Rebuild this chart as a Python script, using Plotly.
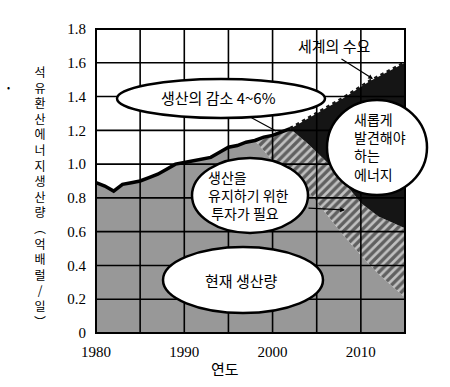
import plotly.graph_objects as go

# ---------------- data ----------------
hist_years = list(range(1980, 2003))
hist_vals = [0.89, 0.87, 0.84, 0.88, 0.89, 0.90, 0.92, 0.94, 0.97, 1.00, 1.01,
             1.02, 1.03, 1.04, 1.07, 1.10, 1.11, 1.13, 1.14, 1.16, 1.17, 1.19, 1.21]

# current production (declining after 1998)
decline_years = [1998, 2000, 2002, 2004, 2006, 2008, 2010, 2012, 2015]
decline_vals = [1.14, 1.02, 0.93, 0.84, 0.71, 0.58, 0.46, 0.35, 0.21]

# production kept by investment (top of hatched area)
kept_years = [2002, 2004, 2006, 2008, 2010, 2012, 2015]
kept_vals = [1.21, 1.12, 1.02, 0.90, 0.77, 0.69, 0.62]

# world demand
demand_years = [2002, 2005, 2008, 2011, 2015]
demand_vals = [1.21, 1.30, 1.39, 1.49, 1.60]

x_ticks = [1980, 1990, 2000, 2010]
y_ticks = [0, 0.2, 0.4, 0.6, 0.8, 1.0, 1.2, 1.4, 1.6, 1.8]
y_tick_text = ["0", "0.2", "0.4", "0.6", "0.8", "1.0", "1.2", "1.4", "1.6", "1.8"]
x_grid = [1985, 1990, 1995, 2000, 2005, 2010]
y_grid = [0.2, 0.4, 0.6, 0.8, 1.0, 1.2, 1.4, 1.6]

y_title_chars = ["석", "유", "환", "산", "에", "너", "지", "생", "산", "량",
                 "︵", "억", "배", "럴", "/", "일", "︶"]

GRAY = "#989898"
BLACK = "#151515"
KR = "Noto Sans CJK KR, Noto Sans, sans-serif"
SERIF = "Liberation Serif, Times New Roman, serif"

# layout geometry (pixels)
W, H = 450, 387
L, R, T, B = 96, 45, 29, 54
PW, PH = W - L - R, H - T - B


def P(X, Y):
    return (X - L) / PW, (T + PH - Y) / PH


fig = go.Figure()

# gray: current production
idx98 = hist_years.index(1998)
gx = hist_years[:idx98 + 1] + decline_years[1:]
gy = hist_vals[:idx98 + 1] + decline_vals[1:]
fig.add_trace(go.Scatter(x=gx, y=gy, mode="lines", fill="tozeroy",
                         fillcolor=GRAY, line=dict(width=0, color=GRAY),
                         hoverinfo="skip"))

# hatched: investment to maintain production
top_x = hist_years[idx98:] + kept_years[1:]
top_y = hist_vals[idx98:] + kept_vals[1:]
hx = top_x + decline_years[::-1]
hy = top_y + decline_vals[::-1]
fig.add_trace(go.Scatter(x=hx, y=hy, mode="lines", fill="toself",
                         fillcolor="#c0c0c0",
                         fillpattern=dict(shape="/", fgcolor="#000000",
                                          bgcolor="#c0c0c0", size=6,
                                          solidity=0.55),
                         line=dict(width=0), hoverinfo="skip"))

# black: new energy needed
bx = demand_years + kept_years[::-1]
by = demand_vals + kept_vals[::-1]
fig.add_trace(go.Scatter(x=bx, y=by, mode="lines", fill="toself",
                         fillcolor=BLACK, line=dict(width=0),
                         hoverinfo="skip"))

# demand serrated edge
fig.add_trace(go.Scatter(x=demand_years, y=demand_vals, mode="lines",
                         line=dict(color=BLACK, width=3.5, dash="dot"),
                         hoverinfo="skip"))

# history line
fig.add_trace(go.Scatter(x=hist_years, y=hist_vals, mode="lines",
                         line=dict(color="black", width=3.5),
                         hoverinfo="skip"))

shapes = []
for gxv in x_grid:
    shapes.append(dict(type="line", xref="x", yref="paper", x0=gxv, x1=gxv,
                       y0=0, y1=1, line=dict(color="black", width=1.6),
                       layer="above"))
for gyv in y_grid:
    shapes.append(dict(type="line", xref="paper", yref="y", x0=0, x1=1,
                       y0=gyv, y1=gyv, line=dict(color="black", width=1.6),
                       layer="above"))
shapes.append(dict(type="rect", xref="paper", yref="paper", x0=0, x1=1,
                   y0=0, y1=1, line=dict(color="black", width=2),
                   layer="above"))


def ellipse(X0, Y0, X1, Y1):
    a0, b0 = P(X0, Y1)
    a1, b1 = P(X1, Y0)
    return dict(type="circle", xref="paper", yref="paper", x0=a0, x1=a1,
                y0=b0, y1=b1, fillcolor="white",
                line=dict(color="black", width=2.5), layer="above")


shapes.append(ellipse(117, 79, 325, 118))
shapes.append(ellipse(192, 158, 308, 233))
shapes.append(ellipse(327, 100, 427, 195))
shapes.append(ellipse(163, 247, 323, 313))

annotations = []


def text(X, Y, s, size=15, xanchor="center", align="center", font=KR):
    x, y = P(X, Y)
    annotations.append(dict(x=x, y=y, xref="paper", yref="paper", text=s,
                            showarrow=False, xanchor=xanchor, yanchor="middle",
                            align=align, font=dict(family=font, size=size,
                                                   color="black")))


text(218, 97, "생산의 감소 4~6%")
text(206, 195, "생산을<br>유지하기 위한<br>&nbsp;투자가 필요", size=14,
     xanchor="left", align="left")
text(352, 146, "새롭게<br>발견해야<br>하는<br>에너지", size=14,
     xanchor="left", align="left")
text(241, 280, "현재 생산량")
text(334, 45, "세계의 수요")
text(225, 368, "연도")
text(8, 88, "•", size=9)

# vertical y-axis title: upright characters stacked in one text block
text(40, 196, "<br>".join(y_title_chars), size=12)


def arrow(tipX, tipY, tailX, tailY, head=True):
    x, y = P(tipX, tipY)
    annotations.append(dict(x=x, y=y, xref="paper", yref="paper", text="",
                            showarrow=True, ax=tailX - tipX, ay=tailY - tipY,
                            arrowhead=2 if head else 0, arrowsize=0.8,
                            arrowwidth=1.2, arrowcolor="black"))


arrow(276, 131, 250, 117, head=False)
arrow(373, 79, 340, 58)
arrow(345, 210, 307, 208)

fig.update_layout(
    width=W, height=H,
    margin=dict(l=L, r=R, t=T, b=B),
    paper_bgcolor="white", plot_bgcolor="white",
    showlegend=False,
    shapes=shapes,
    annotations=annotations,
    xaxis=dict(range=[1980, 2015], tickvals=x_ticks, showgrid=False,
               zeroline=False, showline=False, ticks="",
               ticklabelstandoff=8,
               tickfont=dict(family=SERIF, size=15, color="black")),
    yaxis=dict(range=[0, 1.8], tickvals=y_ticks, ticktext=y_tick_text,
               showgrid=False, zeroline=False, showline=False, ticks="",
               ticklabelstandoff=9,
               tickfont=dict(family=SERIF, size=15, color="black")),
)

fig.write_html("out.html",
               config={"displayModeBar": False},
               post_script="document.body.style.margin='0';"
                           "document.body.style.overflow='hidden';")
